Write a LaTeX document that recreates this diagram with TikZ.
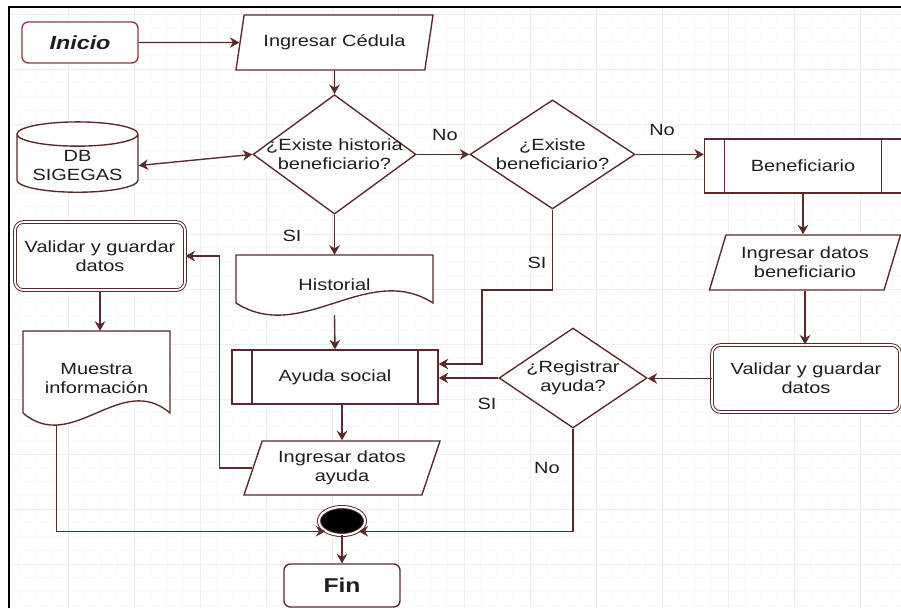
\documentclass[tikz,border=0pt]{standalone}
\usepackage{fontspec}
\setmainfont{Liberation Sans}[FakeStretch=1.23]
\usetikzlibrary{shapes.geometric,arrows.meta}
\definecolor{lineC}{HTML}{5A2A2A}
\definecolor{startC}{HTML}{8C3B3B}
\definecolor{textC}{HTML}{1E1E1E}
\tikzset{
  every node/.style={font=\fontsize{15.4}{18}\selectfont, text=textC},
  flow/.style={draw=lineC, line width=1.3pt},
  arr/.style={lineC, line width=1.3pt, -{Stealth[length=9pt,width=10pt]}},
  dArr/.style={lineC, line width=1.3pt, {Stealth[length=9pt,width=10pt]}-{Stealth[length=9pt,width=10pt]}},
  termBox/.style={flow, fill=white, rectangle, rounded corners=6pt, align=center},
  ioBox/.style={flow, fill=white, trapezium, trapezium left angle=62, trapezium right angle=118,
    trapezium stretches body, align=center, inner sep=0pt},
  decBox/.style={flow, fill=white, diamond, inner xsep=-0.8cm, inner ysep=0pt, align=center},
  procBox/.style={flow, fill=white, rectangle, align=center,
    path picture={
      \draw[lineC, line width=1.3pt] ([xshift=0.67cm]path picture bounding box.north west) -- ([xshift=0.67cm]path picture bounding box.south west);
      \draw[lineC, line width=1.3pt] ([xshift=-0.67cm]path picture bounding box.north east) -- ([xshift=-0.67cm]path picture bounding box.south east);
    }},
  saveBox/.style={draw=lineC, line width=0.9pt, double=white, double distance=1.6pt, fill=white,
    rectangle, rounded corners=8pt, align=center},
  docBox/.style={rectangle, align=center},
  dbBox/.style={flow, fill=white, cylinder, shape border rotate=90, aspect=0.25, align=center},
  endDot/.style={ellipse, draw=lineC, line width=0.9pt, double=white, double distance=2pt, fill=black, inner sep=0pt},
  lab/.style={fill=white, inner sep=1pt}
}
%document outline: center x, center y, width, height
\newcommand{\docShape}[4]{%
  \filldraw[flow, fill=white] ({#1-#3/2},{#2+#4/2}) -- ({#1+#3/2},{#2+#4/2}) -- ({#1+#3/2},{#2-#4/2+0.4})
    .. controls +({-#3/3},1.4) and +({#3/3},-1.4) .. ({#1-#3/2},{#2-#4/2+0.4}) -- cycle;}
\begin{document}
\begin{tikzpicture}
\useasboundingbox (0,0) rectangle (30.033,20.267);
%grid
\begin{scope}
\clip (0.3,0) rectangle (30.033,20.033);
\foreach \i in {0,...,54}{
  \draw[gray!5, line width=0.6pt] ({0.0667+\i*0.55},0) -- ++(0,20.3);
}
\foreach \i in {-4,...,41}{
  \draw[gray!5, line width=0.6pt] (0,{1.4667+\i*0.4583}) -- ++(30.1,0);
}
\foreach \i in {0,...,13}{
  \draw[gray!13, line width=0.8pt] ({0.0667+\i*2.2},0) -- ++(0,20.3);
}
\foreach \i in {-1,...,10}{
  \draw[gray!13, line width=0.8pt] (0,{1.4667+\i*1.8333}) -- ++(30.1,0);
}
\end{scope}
%frame
\draw[black, line width=1.8pt] (0.3,0) -- (0.3,20.033) -- (30.033,20.033);

%documents (outline first, text node on top)
\docShape{11.15}{10.767}{6.567}{2}
\docShape{3.217}{7.667}{4.9}{3.133}

%nodes
\node[termBox, draw=startC, minimum width=3.867cm, minimum height=1.367cm] (Ini) at (2.667,18.85) {\fontsize{18}{20}\selectfont\bfseries\itshape Inicio};
\node[ioBox, minimum width=6.567cm, minimum height=1.833cm] (Ced) at (11.15,18.85) {Ingresar Cédula};
\node[decBox, minimum width=5.433cm, minimum height=3.333cm] (HQ) at (11.15,15.12) {¿Existe historia\\beneficiario?};
\node[dbBox, minimum width=4.033cm, minimum height=2.067cm] (DB) at (2.583,14.75) {DB\\SIGEGAS};
\node[decBox, minimum width=5.5cm, minimum height=3.633cm] (BQ) at (18.417,15.12) {¿Existe\\beneficiario?};
\node[procBox, minimum width=6.567cm, minimum height=1.8cm] (BP) at (26.767,14.733) {Beneficiario};
\node[ioBox, minimum width=6.367cm, minimum height=1.833cm] (DBen) at (26.833,11.517) {Ingresar datos\\beneficiario};
\node[saveBox, minimum width=6.267cm, minimum height=2.233cm] (ValR) at (26.867,7.65) {Validar y guardar\\datos};
\node[decBox, minimum width=4.933cm, minimum height=3.333cm] (RQ) at (19.1,7.667) {¿Registrar\\ayuda?};
\node[procBox, minimum width=6.867cm, minimum height=1.8cm] (Ayu) at (11.167,7.7) {Ayuda social};
\node[docBox, minimum width=6.567cm, minimum height=2cm] (His) at (11.15,10.767) {Historial};
\node[saveBox, minimum width=5.667cm, minimum height=2.267cm] (ValL) at (3.333,11.733) {Validar y guardar\\datos};
\node[docBox, minimum width=4.9cm, minimum height=3.133cm] (Mue) at (3.217,7.667) {Muestra\\información};
\node[ioBox, minimum width=6.533cm, minimum height=1.8cm] (DAy) at (11.4,4.667) {Ingresar datos\\ayuda};
\node[endDot, minimum width=1.533cm, minimum height=0.933cm] (End) at (11.4,2.9) {};
\node[termBox, minimum width=3.867cm, minimum height=1.433cm] (Fin) at (11.4,0.75) {\fontsize{19}{21}\selectfont\bfseries Fin};
\coordinate (kSI) at (16.067,10.6);

%connectors
\draw[arr] (Ini) -- (Ced);
\draw[arr] (Ced) -- (HQ);
\draw[dArr] (DB.east) -- (HQ.west);
\draw[arr] (HQ.east) -- (BQ.west);
\draw[arr] (BQ.east) -- (BQ.east -| BP.west);
\draw[arr] (BP.south) -- (BP.south |- DBen.north);
\draw[arr] (DBen.south) -- (DBen.south |- ValR.north);
\draw[arr] (ValR.west) -- (ValR.west -| RQ.east);
\draw[arr] (RQ.west) -- (RQ.west -| Ayu.east);
\draw[arr] (BQ.south) |- (kSI) |- ([yshift=0.433cm]Ayu.east);
\draw[arr] (HQ.south) -- (His.north);
\draw[arr] (His.south) -- (Ayu.north);
\draw[arr] (Ayu.south -| DAy.north) -- (DAy.north);
\draw[arr] (DAy.west) -| ([xshift=1.133cm]ValL.east) -- (ValL.east);
\draw[arr] (ValL.south) -- (ValL.south |- Mue.north);
\draw[arr] ([xshift=1.133cm]Mue.south west) |- (End.south west);
\draw[arr] (RQ.south) |- (End.south east);
\draw[arr] (End.south) -- (Fin.north);

%labels
\node[lab] (lNoA) at (14.833,15.767) {No};
\node[lab] (lNoB) at (22.067,15.933) {No};
\node[lab] (lSiA) at (9.733,12.4) {SI};
\node[lab] (lSiB) at (17.9,11.5) {SI};
\node[lab] (lSiC) at (16.233,6.8) {SI};
\node[lab] (lNoC) at (18.233,4.667) {No};
\end{tikzpicture}
\end{document}
